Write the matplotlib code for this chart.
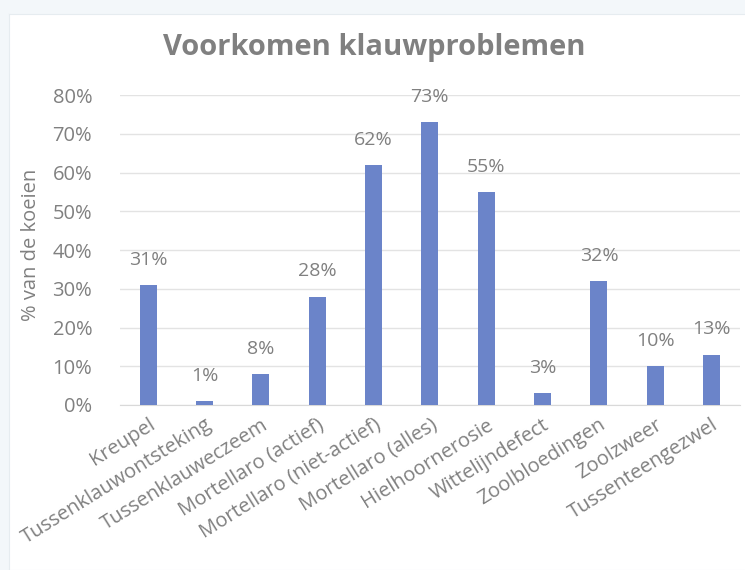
import matplotlib
matplotlib.use('Agg')
import matplotlib.pyplot as plt
from matplotlib.ticker import FuncFormatter

# gegevens
categorieen = ['Kreupel', 'Tussenklauwontsteking', 'Tussenklauweczeem',
               'Mortellaro (actief)', 'Mortellaro (niet-actief)',
               'Mortellaro (alles)', 'Hielhoornerosie', 'Wittelijndefect',
               'Zoolbloedingen', 'Zoolzweer', 'Tussenteengezwel']
percentages = [31, 1, 8, 28, 62, 73, 55, 3, 32, 10, 13]
y_ticks = [0, 10, 20, 30, 40, 50, 60, 70, 80]

plt.rcParams['font.family'] = ['Open Sans', 'DejaVu Sans']
grijs = '#808080'
blauw = '#6b84c9'

fig = plt.figure(figsize=(7.45, 5.7), dpi=100)
fig.patch.set_facecolor('#f3f7fa')

# witte kaart achter de grafiek
achter = fig.add_axes([0.012, 0.0, 0.99, 0.975], zorder=-1)
achter.set_facecolor('white')
achter.set_xticks([])
achter.set_yticks([])
for s in achter.spines.values():
    s.set_color('#e6ecf0')

ax = fig.add_axes([0.161, 0.2895, 0.832, 0.5435])
ax.set_facecolor('none')

x = range(len(categorieen))
bars = ax.bar(x, percentages, width=0.3, color=blauw, zorder=3)

for xi, p in zip(x, percentages):
    ax.text(xi, p + 4.2, f'{p}%', ha='center', va='bottom', fontsize=14, color=grijs)

ax.set_xlim(-0.5, len(categorieen) - 0.5)
ax.set_ylim(0, 80)
ax.set_yticks(y_ticks)
ax.yaxis.set_major_formatter(FuncFormatter(lambda v, pos: f'{int(v)}%'))
ax.grid(axis='y', color='#e3e3e3', lw=1, zorder=0)
for s in ['top', 'right', 'left']:
    ax.spines[s].set_visible(False)
ax.spines['bottom'].set_color('#d9d9d9')
ax.tick_params(axis='both', length=0, colors=grijs)
ax.tick_params(axis='y', pad=20, labelsize=14.5)
ax.tick_params(axis='x', pad=7, labelsize=14.5)

ax.set_xticks(list(x))
ax.set_xticklabels(categorieen, rotation=32, ha='right', rotation_mode='anchor')

ax.set_ylabel('% van de koeien', color=grijs, fontsize=14.5)
ax.yaxis.set_label_coords(-0.128, 0.516)
fig.text(0.503, 0.916, 'Voorkomen klauwproblemen', ha='center', va='center',
         fontsize=21, fontweight='bold', color=grijs)

fig.savefig('out.png', dpi=100, facecolor=fig.get_facecolor())
